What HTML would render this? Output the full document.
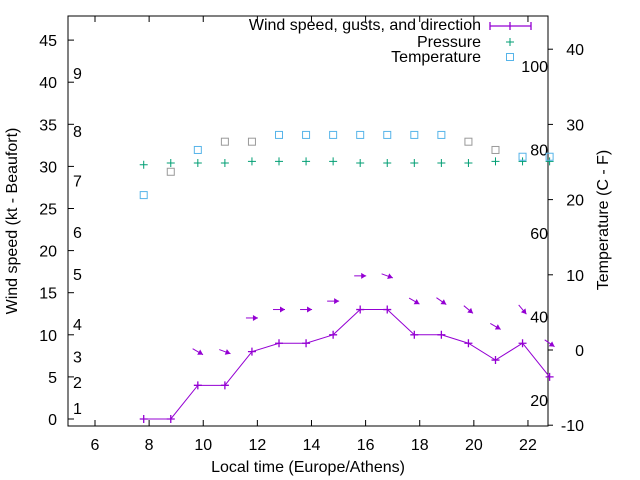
<!DOCTYPE html>
<html><head><meta charset="utf-8"><style>
body{margin:0;background:#fff}
svg{display:block;font-family:"Liberation Sans",sans-serif}
</style></head><body>
<svg id="c" width="640" height="480" xmlns="http://www.w3.org/2000/svg"></svg>
<script>
const hours=[7.8,8.8,9.8,10.8,11.8,12.8,13.8,14.8,15.8,16.8,17.8,18.8,19.8,20.8,21.8,22.8];
const wind=[0,0,4,4,8,9,9,10,13,13,10,10,9,7,9,5];
const gustHours=[9.8,10.8,11.8,12.8,13.8,14.8,15.8,16.8,17.8,18.8,19.8,20.8,21.8,22.8];
const gusts=[8,8,12,13,13,14,17,17,14,14,13,11,13,9];
const gustDir=[30,20,0,0,0,0,0,20,30,35,40,30,50,35];
const pressure=[30.2,30.4,30.4,30.4,30.6,30.6,30.6,30.6,30.4,30.4,30.4,30.4,30.4,30.6,30.6,30.6];
const temps=[20.6,23.7,26.6,27.7,27.7,28.6,28.6,28.6,28.6,28.6,28.6,28.6,27.7,26.6,25.7,25.7];
const tempGrey=[0,1,0,1,1,0,0,0,0,0,0,0,1,1,0,0];
const xTicks=[6,8,10,12,14,16,18,20,22];
const yTicks=[0,5,10,15,20,25,30,35,40,45];
const tTicks=[-10,0,10,20,30,40];
const bftNum=[1,2,3,4,5,6,7,8,9];
const bftPos=[1.3,4.4,7.4,11.3,17.2,22.2,28.3,34.2,41.1];
const fahr=[20,40,60,80,100];

const L=68,R=548,T=16,B=426;
const X=h=>95+(h-6)*27.06;
const Y=v=>419-v*8.42;
const YT=t=>350-t*7.52;
const svg=document.getElementById('c');
const NS='http://www.w3.org/2000/svg';
function el(tag,a,txt){const e=document.createElementNS(NS,tag);for(const k in a)e.setAttribute(k,a[k]);if(txt!==undefined)e.textContent=txt;svg.appendChild(e);return e;}
const FS=16;

let e=el('rect',{x:L,y:T,width:R-L,height:B-T,fill:'none',stroke:'#000','stroke-width':1});


xTicks.forEach(h=>{const x=X(h);
 el('line',{x1:x,y1:B,x2:x,y2:B-6,stroke:'#000'});
 el('line',{x1:x,y1:T,x2:x,y2:T+6,stroke:'#000'});
 e=el('text',{x:x,y:450,'font-size':FS,'text-anchor':'middle'},h);
 });
yTicks.forEach(v=>{const y=Y(v);
 el('line',{x1:L,y1:y,x2:L+6,y2:y,stroke:'#000'});
 e=el('text',{x:57,y:y+6,'font-size':FS,'text-anchor':'end'},v);
 });
tTicks.forEach(t=>{const y=YT(t);
 el('line',{x1:R,y1:y,x2:R+5,y2:y,stroke:'#000'});
 e=el('text',{x:584,y:y+6,'font-size':FS,'text-anchor':'end'},t);
 });
bftNum.forEach((b,i)=>{e=el('text',{x:73,y:Y(bftPos[i])+6,'font-size':FS},b);
 });
fahr.forEach(f=>{const c=(f-32)*5/9;e=el('text',{x:548,y:YT(c)+6,'font-size':FS,'text-anchor':'end'},f);
 });

e=el('text',{x:308,y:472,'font-size':FS,'text-anchor':'middle'},'Local time (Europe/Athens)');

e=el('text',{x:17,y:221,'font-size':FS,'text-anchor':'middle',transform:'rotate(-90 17 221)'},'Wind speed (kt - Beaufort)');

e=el('text',{x:608,y:220,'font-size':FS,'text-anchor':'middle',transform:'rotate(-90 608 220)'},'Temperature (C - F)');


const P='#9400d3',G='#009e73',BL='#56b4e9';
hours.forEach((h,i)=>{const x=X(h),y=Y(pressure[i]);
 e=el('path',{d:`M${x-4} ${y}H${x+4}M${x} ${y-4}V${y+4}`,stroke:G,'stroke-width':1});
 });
hours.forEach((h,i)=>{const x=X(h),y=YT(temps[i]);
 e=el('rect',{x:x-3.5,y:y-3.5,width:7,height:7,fill:'none',stroke:tempGrey[i]?'#999':BL,'stroke-width':1});
 });
e=el('polyline',{points:hours.map((h,i)=>X(h)+','+Y(wind[i])).join(' '),fill:'none',stroke:P,'stroke-width':1});

hours.forEach((h,i)=>{const x=X(h),y=Y(wind[i]);
 e=el('path',{d:`M${x-4} ${y}H${x+4}M${x} ${y-4}V${y+4}`,stroke:P,'stroke-width':1.3});
 });
gustHours.forEach((h,i)=>{const cx=X(h),cy=Y(gusts[i]);const a=gustDir[i]*Math.PI/180;
 const dx=Math.cos(a)*6,dy=Math.sin(a)*6;
 const x2=cx+dx,y2=cy+dy;const ux=Math.cos(a),uy=Math.sin(a);
 const hx=x2-ux*5,hy=y2-uy*5;
 e=el('line',{x1:cx-dx,y1:cy-dy,x2:x2,y2:y2,stroke:P,'stroke-width':1});
 
 el('polygon',{points:`${x2},${y2} ${hx-uy*3},${hy+ux*3} ${hx+uy*3},${hy-ux*3}`,fill:P});});

e=el('text',{x:481,y:30,'font-size':FS,'text-anchor':'end'},'Wind speed, gusts, and direction');

el('path',{d:'M490 26H531M490 22V30M531 22V30M510 22V30',stroke:P,'stroke-width':1.3});
e=el('text',{x:481,y:47,'font-size':FS,'text-anchor':'end'},'Pressure');

el('path',{d:'M506 42H514M510 38V46',stroke:G});
e=el('text',{x:481,y:62,'font-size':FS,'text-anchor':'end'},'Temperature');

el('rect',{x:506.5,y:53.5,width:7,height:7,fill:'none',stroke:BL});
</script>
</body></html>
